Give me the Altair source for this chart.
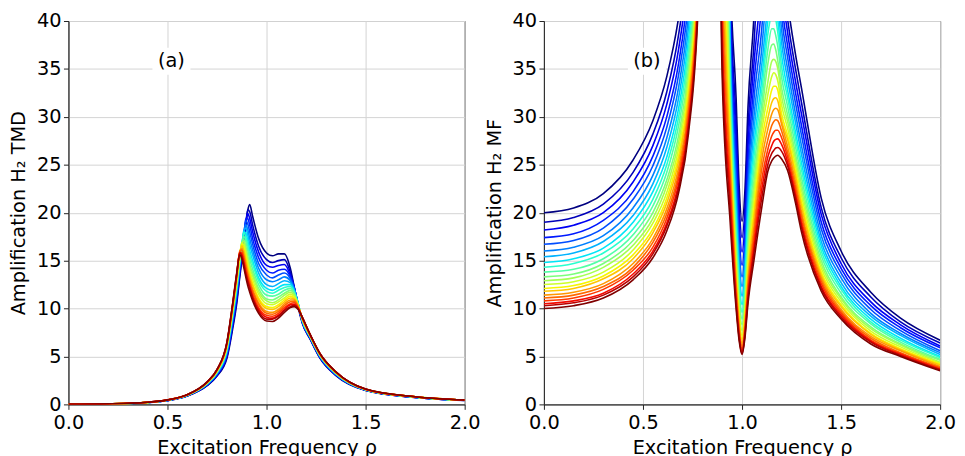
import altair as alt
import pandas as pd

# 21 curves, k = 0 (navy) ... 20 (dark red)
CURVES = list(range(21))

# ---------------- panel (a): H2 of the TMD ----------------
RHO_A = [0.0, 0.2, 0.4, 0.5, 0.6, 0.7, 0.75, 0.8, 0.83, 0.85, 0.865, 0.875, 0.885, 0.895,
         0.905, 0.915, 0.93, 0.96, 1.0, 1.03, 1.06, 1.09, 1.12, 1.14, 1.16, 1.18, 1.22,
         1.27, 1.35, 1.5, 1.75, 2.0]

# one row per rho value, 21 curve values in each row
TMD_ROWS = [
    [0, 0, 0, 0, 0, 0, 0, 0, 0, 0, 0, 0, 0, 0, 0, 0, 0, 0, 0, 0, 0],
    [0.04, 0.04, 0.04, 0.04, 0.04, 0.04, 0.04, 0.05, 0.05, 0.05, 0.05, 0.05, 0.05, 0.05, 0.05, 0.05, 0.05, 0.05, 0.05, 0.05, 0.05],
    [0.19, 0.19, 0.20, 0.20, 0.20, 0.20, 0.20, 0.21, 0.21, 0.21, 0.21, 0.21, 0.21, 0.21, 0.21, 0.22, 0.22, 0.22, 0.22, 0.22, 0.22],
    [0.40, 0.41, 0.41, 0.42, 0.42, 0.43, 0.43, 0.44, 0.44, 0.44, 0.45, 0.45, 0.45, 0.46, 0.46, 0.46, 0.46, 0.46, 0.47, 0.47, 0.47],
    [0.88, 0.89, 0.91, 0.92, 0.93, 0.94, 0.94, 0.95, 0.96, 0.97, 0.97, 0.98, 0.99, 0.99, 0.99, 1.0, 1.0, 1.01, 1.01, 1.02, 1.02],
    [1.95, 1.99, 2.02, 2.05, 2.08, 2.11, 2.13, 2.16, 2.18, 2.2, 2.22, 2.23, 2.25, 2.27, 2.28, 2.29, 2.31, 2.32, 2.33, 2.34, 2.35],
    [2.95, 3.02, 3.08, 3.13, 3.18, 3.23, 3.27, 3.31, 3.35, 3.38, 3.42, 3.45, 3.48, 3.5, 3.52, 3.55, 3.57, 3.59, 3.62, 3.63, 3.65],
    [4.8, 4.97, 5.11, 5.24, 5.36, 5.48, 5.58, 5.68, 5.77, 5.85, 5.94, 6.01, 6.08, 6.14, 6.19, 6.26, 6.31, 6.36, 6.42, 6.45, 6.5],
    [8.0, 8.27, 8.49, 8.7, 8.89, 9.08, 9.24, 9.4, 9.54, 9.67, 9.81, 9.92, 10.03, 10.13, 10.21, 10.32, 10.4, 10.48, 10.57, 10.62, 10.7],
    [10.6, 10.9, 11.2, 11.4, 11.7, 11.9, 12.1, 12.3, 12.4, 12.6, 12.7, 12.9, 13.0, 13.1, 13.2, 13.4, 13.5, 13.6, 13.65, 13.7, 13.8],
    [13.3, 13.6, 13.8, 14.1, 14.3, 14.5, 14.6, 14.8, 15.0, 15.1, 15.2, 15.4, 15.5, 15.6, 15.7, 15.9, 16.0, 15.9, 15.85, 15.8, 15.6],
    [15.0, 15.3, 15.5, 15.7, 15.9, 16.0, 16.2, 16.4, 16.5, 16.6, 16.9, 16.8, 16.85, 16.7, 16.55, 16.25, 16.1, 15.85, 15.65, 15.45, 15.2],
    [16.8, 17.0, 17.2, 17.4, 17.6, 17.8, 18.1, 18.0, 17.9, 17.55, 17.2, 17.0, 16.65, 16.3, 16.05, 15.65, 15.4, 15.1, 14.8, 14.6, 14.3],
    [18.6, 18.8, 19.0, 19.3, 19.15, 18.75, 18.4, 17.9, 17.5, 17.05, 16.5, 16.2, 15.8, 15.4, 15.1, 14.7, 14.4, 14.1, 13.8, 13.6, 13.3],
    [20.2, 20.3, 19.9, 19.4, 18.85, 18.25, 17.7, 17.1, 16.6, 16.1, 15.5, 15.2, 14.8, 14.4, 14.15, 13.75, 13.5, 13.2, 12.95, 12.8, 12.4],
    [20.85, 20.1, 19.4, 18.7, 18.0, 17.3, 16.7, 16.1, 15.6, 15.15, 14.6, 14.3, 13.95, 13.6, 13.35, 13.0, 12.75, 12.5, 12.25, 12.1, 11.7],
    [19.6, 18.7, 18.0, 17.3, 16.7, 16.1, 15.6, 15.0, 14.6, 14.1, 13.7, 13.4, 13.0, 12.6, 12.4, 12.0, 11.8, 11.5, 11.2, 11.1, 10.8],
    [17.3, 16.5, 15.9, 15.3, 14.7, 14.2, 13.7, 13.2, 12.9, 12.5, 12.1, 11.8, 11.5, 11.1, 10.9, 10.6, 10.4, 10.1, 9.9, 9.7, 9.5],
    [15.8, 15.1, 14.5, 14.0, 13.5, 13.0, 12.5, 12.1, 11.8, 11.4, 11.0, 10.8, 10.5, 10.2, 10.0, 9.7, 9.5, 9.3, 9.1, 8.9, 8.7],
    [15.5, 14.8, 14.3, 13.7, 13.2, 12.8, 12.3, 11.9, 11.6, 11.3, 10.9, 10.6, 10.4, 10.1, 9.9, 9.6, 9.4, 9.2, 9.0, 8.9, 8.65],
    [15.7, 15.0, 14.5, 14.0, 13.5, 13.0, 12.6, 12.2, 11.9, 11.5, 11.2, 10.9, 10.7, 10.4, 10.2, 9.9, 9.7, 9.5, 9.3, 9.2, 9.0],
    [15.7, 15.1, 14.6, 14.1, 13.7, 13.3, 12.9, 12.5, 12.2, 11.9, 11.6, 11.4, 11.1, 10.9, 10.7, 10.5, 10.3, 10.1, 9.9, 9.8, 9.6],
    [14.2, 13.8, 13.5, 13.3, 13.1, 12.9, 12.7, 12.5, 12.3, 12.1, 11.9, 11.7, 11.5, 11.3, 11.1, 10.9, 10.7, 10.5, 10.4, 10.2, 10.1],
    [12.2, 12.2, 12.15, 12.1, 12.05, 12.0, 11.9, 11.8, 11.7, 11.6, 11.5, 11.35, 11.25, 11.1, 11.0, 10.9, 10.75, 10.6, 10.45, 10.35, 10.2],
    [10.1, 10.3, 10.35, 10.4, 10.45, 10.45, 10.45, 10.45, 10.4, 10.4, 10.35, 10.3, 10.3, 10.25, 10.2, 10.2, 10.1, 10.05, 10.0, 9.95, 9.9],
    [8.5, 8.6, 8.6, 8.7, 8.7, 8.7, 8.8, 8.8, 8.8, 8.9, 8.9, 8.9, 9.0, 9.0, 9.0, 9.0, 9.0, 9.1, 9.1, 9.1, 9.1],
    [6.8, 6.85, 6.89, 6.93, 6.97, 7.0, 7.03, 7.06, 7.09, 7.11, 7.14, 7.16, 7.18, 7.2, 7.21, 7.23, 7.25, 7.26, 7.28, 7.29, 7.3],
    [4.8, 4.85, 4.89, 4.93, 4.97, 5.0, 5.03, 5.06, 5.09, 5.11, 5.14, 5.16, 5.18, 5.2, 5.21, 5.23, 5.25, 5.26, 5.28, 5.29, 5.3],
    [3.0, 3.04, 3.07, 3.1, 3.13, 3.16, 3.18, 3.21, 3.23, 3.25, 3.27, 3.28, 3.3, 3.32, 3.33, 3.34, 3.36, 3.37, 3.38, 3.39, 3.4],
    [1.45, 1.47, 1.48, 1.49, 1.5, 1.51, 1.52, 1.53, 1.54, 1.54, 1.55, 1.56, 1.56, 1.57, 1.57, 1.58, 1.58, 1.59, 1.59, 1.6, 1.6],
    [0.72, 0.73, 0.73, 0.74, 0.75, 0.75, 0.76, 0.76, 0.77, 0.77, 0.77, 0.78, 0.78, 0.78, 0.79, 0.79, 0.79, 0.79, 0.8, 0.8, 0.8],
    [0.42, 0.42, 0.43, 0.43, 0.43, 0.43, 0.43, 0.44, 0.44, 0.44, 0.44, 0.44, 0.44, 0.44, 0.44, 0.45, 0.45, 0.45, 0.45, 0.45, 0.45],
]

# ---------------- panel (b): H2 of the main frame ----------------
RHO_B = [0.0, 0.15, 0.3, 0.45, 0.55, 0.62, 0.68, 0.73, 0.78, 0.84, 0.9, 0.94, 0.97, 0.985,
         1.0, 1.015, 1.03, 1.06, 1.1, 1.13, 1.15, 1.16, 1.17, 1.18, 1.2, 1.23, 1.27, 1.3,
         1.4, 1.5, 1.65, 1.8, 2.0]

MF_ROWS = [
    [20.0, 19.0, 18.2, 17.4, 16.7, 16.0, 15.4, 14.8, 14.3, 13.8, 13.3, 12.9, 12.5, 12.1, 11.8, 11.4, 11.1, 10.8, 10.5, 10.3, 10.0],
    [20.5, 19.5, 18.7, 17.8, 17.1, 16.4, 15.8, 15.2, 14.7, 14.1, 13.6, 13.2, 12.8, 12.4, 12.1, 11.7, 11.4, 11.1, 10.8, 10.6, 10.3],
    [22.0, 20.9, 20.0, 19.2, 18.4, 17.6, 17.0, 16.3, 15.8, 15.2, 14.7, 14.3, 13.8, 13.4, 13.1, 12.6, 12.3, 12.0, 11.6, 11.4, 11.1],
    [25.5, 24.2, 23.2, 22.2, 21.4, 20.5, 19.7, 19.0, 18.3, 17.7, 17.1, 16.6, 16.1, 15.6, 15.2, 14.7, 14.3, 14.0, 13.6, 13.3, 13.0],
    [29.6, 28.2, 27.0, 25.9, 24.9, 23.9, 23.0, 22.2, 21.4, 20.7, 20.0, 19.4, 18.9, 18.3, 17.9, 17.3, 16.9, 16.4, 16.0, 15.7, 15.3],
    [34.2, 32.6, 31.3, 30.0, 28.9, 27.8, 26.8, 25.8, 25.0, 24.2, 23.4, 22.8, 22.1, 21.5, 21.0, 20.4, 19.9, 19.4, 18.9, 18.6, 18.1],
    [40.4, 38.6, 37.1, 35.6, 34.4, 33.1, 32.0, 30.9, 30.0, 29.1, 28.1, 27.4, 26.7, 26.0, 25.4, 24.7, 24.1, 23.6, 23.0, 22.6, 22.1],
    [48.8, 46.8, 45.1, 43.5, 42.0, 40.6, 39.4, 38.1, 37.1, 36.1, 35.1, 34.2, 33.4, 32.6, 32.0, 31.2, 30.6, 29.9, 29.3, 28.9, 28.3],
    [63.7, 61.6, 59.8, 58.1, 56.6, 55.1, 53.9, 52.6, 51.5, 50.4, 49.4, 48.5, 47.7, 46.8, 46.2, 45.3, 44.7, 44.0, 43.4, 43.0, 42.3],
    [114, 116, 117, 118, 119, 120, 121, 122, 123, 124, 125, 125, 126, 127, 127, 128, 128, 129, 129, 130, 130],
    [130, 125, 120, 115, 108, 100, 94, 87, 80, 74, 68, 63, 58, 54, 50, 46, 43, 40, 38, 36, 34],
    [46, 44, 42.5, 41, 39.5, 38, 36.5, 35, 33.5, 32, 30.5, 29.5, 28.2, 27, 26, 24.8, 23.8, 22.6, 21.5, 20.3, 19.0],
    [32.0, 29.6, 27.6, 25.7, 24.0, 22.5, 21.1, 19.8, 18.6, 17.5, 16.4, 15.5, 14.7, 13.9, 13.3, 12.5, 11.9, 11.4, 10.8, 10.5, 10.0],
    [23.0, 21.1, 19.5, 18.0, 16.6, 15.5, 14.4, 13.4, 12.5, 11.7, 10.9, 10.2, 9.6, 9.1, 8.65, 8.2, 7.8, 7.5, 7.2, 7.0, 6.7],
    [19.1, 17.4, 15.9, 14.5, 13.3, 12.3, 11.3, 10.4, 9.6, 8.9, 8.3, 7.7, 7.2, 6.8, 6.4, 6.1, 5.8, 5.6, 5.4, 5.3, 5.2],
    [22.5, 20.7, 19.1, 17.7, 16.4, 15.3, 14.3, 13.3, 12.5, 11.7, 10.9, 10.3, 9.7, 9.2, 8.8, 8.4, 8.0, 7.7, 7.5, 7.3, 7.0],
    [31.0, 28.8, 26.9, 25.1, 23.5, 22.1, 20.8, 19.6, 18.5, 17.4, 16.4, 15.6, 14.8, 14.1, 13.5, 12.8, 12.2, 11.8, 11.2, 11.0, 10.5],
    [40.5, 37.5, 35.5, 33.5, 31.8, 30.0, 28.5, 27.0, 25.8, 24.5, 23.3, 22.3, 21.3, 20.3, 19.5, 18.5, 17.8, 17.0, 16.3, 15.8, 15.0],
    [62, 52, 45, 42, 39.3, 37.2, 35.5, 34.0, 32.8, 31.5, 30.4, 29.5, 28.6, 27.6, 26.6, 25.6, 24.6, 23.5, 22.5, 21.6, 20.6],
    [75, 65, 58, 52, 48, 44.5, 41.5, 40.0, 38.6, 37.0, 35.5, 33.6, 32.3, 30.9, 29.8, 28.7, 27.6, 26.6, 25.8, 25.0, 24.3],
    [78, 68, 62, 56, 51.5, 47.5, 44.5, 42.6, 40.8, 39.2, 37.5, 35.8, 34.2, 32.8, 31.5, 30.3, 29.1, 28.0, 27.0, 26.2, 25.4],
    [75, 66, 61, 56, 52, 48, 45.2, 43.0, 41.0, 39.2, 37.6, 36.0, 34.6, 33.2, 31.9, 30.75, 29.5, 28.4, 27.45, 26.5, 25.7],
    [68, 61, 57, 53, 50, 46.5, 44.2, 42.0, 40.2, 38.5, 37.0, 35.8, 34.4, 33.2, 32.0, 30.9, 29.7, 28.6, 27.65, 26.75, 25.9],
    [60, 55, 52, 49, 47, 44, 41.8, 40.2, 38.9, 37.4, 35.9, 35.1, 33.8, 32.8, 31.7, 30.75, 29.6, 28.6, 27.7, 26.8, 26.0],
    [48, 45.8, 44.0, 42.2, 40.6, 39.0, 37.7, 36.4, 35.2, 34.1, 33.0, 32.1, 31.2, 30.3, 29.6, 29.2, 28.5, 27.8, 27.1, 26.4, 25.6],
    [42, 40.2, 38.8, 37.4, 36.2, 35.0, 33.9, 32.8, 32.0, 31.1, 30.2, 29.5, 28.8, 28.1, 27.6, 26.9, 26.3, 25.8, 25.3, 24.9, 24.4],
    [36.5, 35.0, 33.7, 32.5, 31.4, 30.3, 29.4, 28.4, 27.7, 26.9, 26.1, 25.5, 24.9, 24.3, 23.8, 23.2, 22.7, 22.2, 21.8, 21.5, 21.0],
    [33, 31.5, 30.3, 29.1, 28.1, 27.0, 26.1, 25.2, 24.5, 23.7, 23.0, 22.4, 21.8, 21.2, 20.7, 20.1, 19.7, 19.2, 18.8, 18.5, 18.0],
    [21.5, 20.5, 19.8, 19.0, 18.3, 17.6, 17.0, 16.5, 16.0, 15.5, 15.0, 14.6, 14.2, 13.8, 13.5, 13.2, 12.9, 12.6, 12.3, 12.1, 11.8],
    [16.0, 15.3, 14.7, 14.2, 13.7, 13.2, 12.7, 12.3, 12.0, 11.6, 11.2, 11.0, 10.7, 10.4, 10.2, 9.9, 9.7, 9.5, 9.3, 9.1, 8.9],
    [11.7, 11.2, 10.7, 10.3, 9.9, 9.5, 9.2, 8.9, 8.6, 8.4, 8.1, 7.9, 7.65, 7.4, 7.3, 7.1, 6.9, 6.7, 6.6, 6.5, 6.3],
    [9.0, 8.6, 8.3, 8.0, 7.7, 7.4, 7.2, 6.9, 6.7, 6.5, 6.3, 6.2, 6.0, 5.8, 5.7, 5.6, 5.4, 5.3, 5.2, 5.1, 5.0],
    [6.7, 6.4, 6.1, 5.9, 5.6, 5.4, 5.2, 5.0, 4.9, 4.7, 4.6, 4.4, 4.3, 4.2, 4.1, 3.95, 3.85, 3.75, 3.65, 3.6, 3.5],
]

# panel tags
TAGS = ["(a)", "(b)"]
TAG_RHO = 0.52
TAG_AMP = 35.8

Y_TITLES = ["Amplification H\u2082 TMD", "Amplification H\u2082 MF"]
X_TITLE = "Excitation Frequency \u03c1"
X_TICKS = [0.0, 0.5, 1.0, 1.5, 2.0]
Y_TICKS = [0, 5, 10, 15, 20, 25, 30, 35, 40]


def jet(t):
    def seg(pts):
        for (x0, y0), (x1, y1) in zip(pts, pts[1:]):
            if x0 <= t <= x1:
                return y0 + (y1 - y0) * (t - x0) / (x1 - x0)
        return pts[-1][1]
    r = seg([(0, 0), (0.35, 0), (0.66, 1), (0.89, 1), (1, 0.5)])
    g = seg([(0, 0), (0.125, 0), (0.375, 1), (0.64, 1), (0.91, 0), (1, 0)])
    b = seg([(0, 0.5), (0.11, 1), (0.34, 1), (0.65, 0), (1, 0)])
    return "#%02x%02x%02x" % (round(r * 255), round(g * 255), round(b * 255))


PALETTE = [jet(k / 20) for k in CURVES]


def long_table(rho, rows):
    assert len(rho) == len(rows)
    recs = []
    for x, row in zip(rho, rows):
        assert len(row) == len(CURVES), (x, len(row))
        for k, v in zip(CURVES, row):
            recs.append({"rho": x, "amp": v, "curve": k})
    return pd.DataFrame(recs)


FONT = "DejaVu Sans"


def panel(df, ytitle, tag):
    x_enc = alt.X("rho:Q", scale=alt.Scale(domain=[0, 2], nice=False, zero=False),
                  axis=alt.Axis(values=X_TICKS, format=".1f", title=X_TITLE, labelFlush=False,
                                labelPadding=4.5, titlePadding=7))
    y_enc = alt.Y("amp:Q", scale=alt.Scale(domain=[0, 40], nice=False),
                  axis=alt.Axis(values=Y_TICKS, format="d", title=ytitle, labelFlush=False,
                                labelPadding=2.5, titlePadding=8))
    lines = alt.Chart(df).mark_line(clip=True, interpolate="monotone", strokeWidth=1.6).encode(
        x=x_enc, y=y_enc,
        color=alt.Color("curve:O", scale=alt.Scale(domain=CURVES, range=PALETTE), legend=None),
    )
    tag_df = pd.DataFrame({"rho": [TAG_RHO], "amp": [TAG_AMP], "tag": [tag]})
    box = alt.Chart(tag_df).mark_point(
        shape="M-1.2,-0.85H1.2V0.85H-1.2Z", size=1024, filled=True,
        color="white", opacity=1, strokeWidth=0,
    ).encode(x=x_enc, y=y_enc)
    text = alt.Chart(tag_df).mark_text(font=FONT, fontSize=19.5, color="black",
                                       baseline="middle", align="center").encode(
        x=x_enc, y=y_enc, text="tag:N")
    return alt.layer(lines, box, text).properties(width=400, height=387)


left = panel(long_table(RHO_A, TMD_ROWS), Y_TITLES[0], TAGS[0])
right = panel(long_table(RHO_B, MF_ROWS), Y_TITLES[1], TAGS[1])

chart = alt.hconcat(left, right, spacing=80, bounds="flush").properties(
    autosize=alt.AutoSizeParams(type="pad"),
    padding={"left": 0, "top": 0, "right": 0, "bottom": 0},
).configure_view(stroke="#222222", strokeWidth=1).configure_axis(
    labelFont=FONT, titleFont=FONT, labelFontSize=19.5, titleFontSize=19.5,
    titleFontWeight="normal", labelColor="black", titleColor="black",
    domainColor="#222222", tickColor="#222222", tickSize=5,
    gridColor="#d3d3d3", gridWidth=1,
)

chart.save("out.html", embed_options={"renderer": "svg", "actions": False})
